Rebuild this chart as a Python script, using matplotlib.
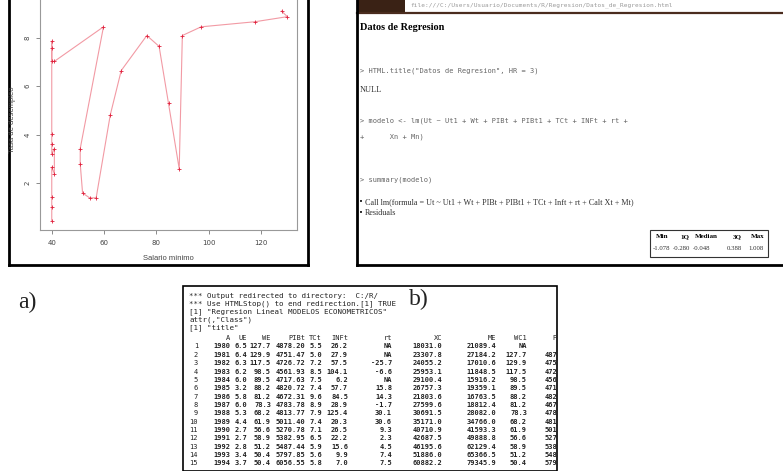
import numpy as np
import matplotlib
matplotlib.use("Agg")
import matplotlib.pyplot as plt
from matplotlib.lines import Line2D
from matplotlib.patches import Rectangle

# --- panel a: scatter of unemployment vs minimum wage ---
salario = [39.9, 39.9, 39.9, 39.9, 40.9, 40.9, 39.9, 39.9, 39.9, 39.9, 39.9, 39.9, 40.9,
           59.7, 50.8, 50.8, 51.7, 54.4, 56.9, 62.3, 66.5, 76.3, 81.0, 84.6, 88.7,
           89.9, 97.1, 117.7, 130.1, 127.9]
desempleo = [0.43, 0.99, 1.40, 2.65, 2.38, 3.42, 3.21, 3.63, 4.04, 7.86, 7.60, 7.03, 7.03,
             8.46, 3.42, 2.79, 1.58, 1.38, 1.38, 4.81, 6.65, 8.10, 7.65, 5.29, 2.58,
             8.10, 8.46, 8.67, 8.88, 9.11]
xticks = [40, 60, 80, 100, 120]
yticks = [2, 4, 6, 8]

# --- right panel: R2HTML output ---
resid_names = ["Min", "1Q", "Median", "3Q", "Max"]
resid_vals = [-1.078, -0.280, -0.048, 0.388, 1.008]

# --- panel b: console data frame ---
cols = ["A", "UE", "WE", "PIBt", "TCt", "INFt", "rt", "XC", "ME", "WC1", "PIBt1"]
A = [1980, 1981, 1982, 1983, 1984, 1985, 1986, 1987, 1988, 1989, 1990, 1991, 1992, 1993, 1994]
UE = [6.5, 6.4, 6.3, 6.2, 6.0, 3.2, 5.8, 6.0, 5.3, 4.4, 2.7, 2.7, 2.8, 3.4, 3.7]
WE = [127.7, 129.9, 117.5, 98.5, 89.5, 88.2, 81.2, 78.3, 68.2, 61.9, 56.6, 58.9, 51.2, 50.4, 50.4]
PIBt = [4878.20, 4751.47, 4726.72, 4561.93, 4717.63, 4820.72, 4672.31, 4783.78, 4813.77,
        5011.40, 5270.78, 5382.95, 5487.44, 5797.85, 6056.55]
TCt = [5.5, 5.0, 7.2, 8.5, 7.5, 7.4, 9.6, 8.9, 7.9, 7.4, 7.1, 6.5, 5.9, 5.6, 5.8]
INFt = [26.2, 27.9, 57.5, 104.1, 6.2, 57.7, 84.5, 28.9, 125.4, 20.3, 26.5, 22.2, 15.6, 9.9, 7.0]
rt = [None, None, -25.7, -6.6, None, 15.8, 14.3, -1.7, 30.1, 30.6, 9.3, 2.3, 4.5, 7.4, 7.5]
XC = [18031.0, 23307.8, 24055.2, 25953.1, 29100.4, 26757.3, 21803.6, 27599.6, 30691.5,
      35171.0, 40710.9, 42687.5, 46195.6, 51886.0, 60882.2]
ME = [21089.4, 27184.2, 17010.6, 11848.5, 15916.2, 19359.1, 16763.5, 18812.4, 28082.0,
      34766.0, 41593.3, 49888.8, 62129.4, 65366.5, 79345.9]
WC1 = [None] + WE[:-1]
PIBt1 = [None] + PIBt[:-1]

W, H = 783, 471
fig = plt.figure(figsize=(W / 100, H / 100), dpi=100)
fig.patch.set_facecolor("white")


def fx(x):
    return x / W


def fy(y):
    return 1 - y / H


def txt(x, y, s, **kw):
    kw.setdefault("va", "center")
    return fig.text(fx(x), fy(y), s, **kw)


def seg(x0, y0, x1, y1, lw=1.0, color="black"):
    fig.add_artist(Line2D([fx(x0), fx(x1)], [fy(y0), fy(y1)], lw=lw, color=color,
                          transform=fig.transFigure))


def box(x0, y0, x1, y1, **kw):
    fig.add_artist(Rectangle((fx(x0), fy(y1)), fx(x1) - fx(x0), fy(y0) - fy(y1),
                             transform=fig.transFigure, **kw))


# ---------------- panel a ----------------
ax = fig.add_axes([fx(40), fy(230), fx(297) - fx(40), fy(0) - fy(230)])
ax.plot(salario, desempleo, color="#f29aa4", lw=0.8, marker="+", ms=3,
        mec="#e0203c", mew=0.6)
ax.set_xlim(35.4, 133.8)
ax.set_ylim(0.05, 9.57)
ax.set_xticks(xticks)
ax.set_yticks(yticks)
ax.set_xticklabels([str(v) for v in xticks], fontsize=5, color="#444")
ax.set_yticklabels([str(v) for v in yticks], fontsize=5, color="#444",
                   rotation=90, va="center")
ax.tick_params(length=3, width=0.6, color="#777", pad=4)
for s in ["left", "bottom", "right"]:
    ax.spines[s].set_color("#999")
    ax.spines[s].set_linewidth(0.8)
ax.spines["top"].set_visible(False)
txt(168, 258, "Salario mínimo", fontsize=5.5, color="#444", ha="center",
    family="Liberation Sans")
txt(13, 120, "Tasa de desempleo", fontsize=5.5, color="#444", ha="center",
    rotation=90, family="Liberation Sans")
# frame of screenshot a
seg(9, 0, 9, 265, lw=2)
seg(9, 265, 308, 265, lw=2)
seg(308, 0, 308, 265, lw=2)

# ---------------- right panel ----------------
serif = "Liberation Serif"
mono = "DejaVu Sans Mono"
box(357, 0, 405, 12, facecolor="#3a2215", edgecolor="none")
txt(410, 5, "file:///C:/Users/Usuario/Documents/R/Regresion/Datos_de_Regresion.html",
    fontsize=4.4, color="#999", family=mono)
seg(357, 13, 783, 13, lw=1.6, color="#4a2c1e")
seg(357, 0, 357, 265, lw=2)
seg(357, 265, 783, 265, lw=2)
txt(360, 28, "Datos de Regresion", fontsize=7.4, weight="bold", family=serif)
txt(360, 71, '> HTML.title("Datos de Regresion", HR = 3)', fontsize=5.0,
    color="#666", family=mono)
txt(360, 90, "NULL", fontsize=6, family=serif, color="#333")
txt(360, 121, "> modelo <- lm(Ut ~ Ut1 + Wt + PIBt + PIBt1 + TCt + INFt + rt +",
    fontsize=5.0, color="#666", family=mono)
txt(360, 137, "+      Xn + Mn)", fontsize=5.0, color="#666", family=mono)
txt(360, 180, "> summary(modelo)", fontsize=5.0, color="#666", family=mono)
txt(359, 202, "\u2022", fontsize=5, family="DejaVu Sans")
txt(365, 202, "Call lm(formula = Ut ~ Ut1 + Wt + PIBt + PIBt1 + TCt + Inft + rt + Calt Xt + Mt)",
    fontsize=5.9, family=serif, color="#333")
txt(359, 213, "\u2022", fontsize=5, family="DejaVu Sans")
txt(365, 213, "Residuals", fontsize=5.9, family=serif, color="#333")
box(650, 230, 768, 257, facecolor="white", edgecolor="#333", lw=0.8)
head_r = [668, 689, 718, 742, 764]
val_r = [670, 690, 710, 742, 764]
for hx, vx, n, v in zip(head_r, val_r, resid_names, resid_vals):
    txt(hx, 237, n, fontsize=5.0, weight="bold", family=serif, ha="right")
    txt(vx, 248, f"{v:.3f}", fontsize=4.9, family=serif, ha="right", color="#333")

# ---------------- panel b ----------------
txt(18, 302, "a)", fontsize=17, family=serif, color="#222")
box(183, 286, 557, 471, facecolor="white", edgecolor="black", lw=1.2)
head = ['*** Output redirected to directory:  C:/R/',
        '*** Use HTMLStop() to end redirection.[1] TRUE',
        '[1] "Regresion Lineal MODELOS ECONOMETRICOS"',
        'attr(,"Class")',
        '[1] "title"']
for i, line in enumerate(head):
    txt(189, 296 + 7.8 * i, line, fontsize=5.4, family=mono, color="#222")

col_right = [230, 247, 271, 305, 322, 348, 392, 442, 496, 527, 574]
fmt = ["{:.0f}", "{:.1f}", "{:.1f}", "{:.2f}", "{:.1f}", "{:.1f}", "{:.1f}",
       "{:.1f}", "{:.1f}", "{:.1f}", "{:.2f}"]
data = [A, UE, WE, PIBt, TCt, INFt, rt, XC, ME, WC1, PIBt1]
clip = Rectangle((fx(183), fy(471)), fx(556) - fx(183), fy(286) - fy(471),
                 transform=fig.transFigure)
y0 = 338
for c in range(len(cols)):
    t = txt(col_right[c], y0, cols[c], fontsize=5.0, family=mono, ha="right", color="#222")
    t.set_clip_path(clip)
for r in range(len(A)):
    yy = 346.5 + 8.35 * r
    txt(198, yy, str(r + 1), fontsize=5.0, family=mono, ha="right", color="#222")
    for c in range(len(cols)):
        v = data[c][r]
        s = "NA" if v is None else fmt[c].format(v)
        t = txt(col_right[c], yy, s, fontsize=5.0, family=mono, ha="right",
                color="#222", weight="bold")
        t.set_clip_path(clip)
txt(409, 299, "b)", fontsize=17, family=serif, color="#222")

fig.savefig("out.png", dpi=100)
